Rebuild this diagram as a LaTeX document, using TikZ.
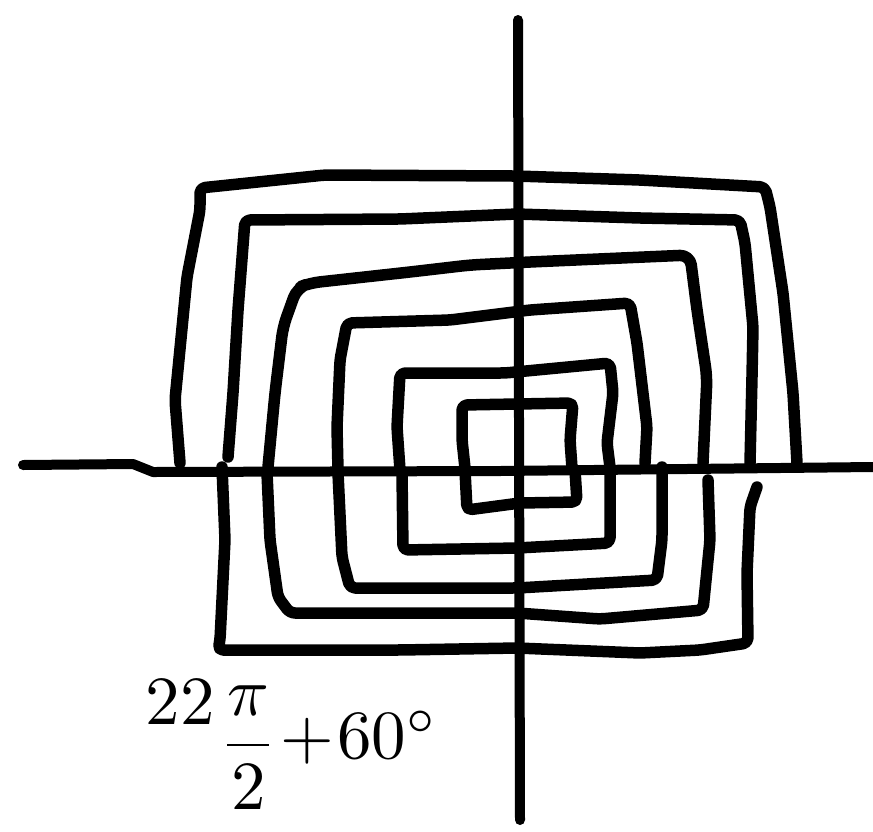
\documentclass[tikz,border=0pt]{standalone}
\usepackage{amsmath}
\begin{document}
\begin{tikzpicture}[x=1pt,y=-1pt,
  ink/.style={line width=11.5pt,line cap=round,line join=round,rounded corners=5pt},
  axisline/.style={line width=10pt,line cap=round,line join=round}]
\useasboundingbox[fill=white] (0,0) rectangle (873,831);
% axes
\coordinate (xa) at (23,465);
\coordinate (xb) at (133,464);
\coordinate (xc) at (153,472);
\coordinate (xd) at (873,467);
\coordinate (ya) at (518,20);
\coordinate (yb) at (520,820);
\draw[axisline] (xa) -- (xb) -- (xc) -- (500,471) -- (xd);
\draw[axisline] (ya) -- (yb);
% upper arches
\draw[ink] (180,463) -- (175,400) -- (187,277) -- (200,210) -- (200,188) -- (325,175) -- (515,176) -- (640,180) -- (765,187) -- (770,207) -- (783,293) -- (793,393) -- (797,463);
\draw[ink] (228,457) -- (233,393) -- (238,310) -- (245,220) -- (400,219) -- (517,214) -- (640,218) -- (740,220) -- (745,243) -- (753,327) -- (752,377) -- (750,463);
\draw[ink,rounded corners=10pt] (268,467) -- (275,393) -- (283,327) -- (297,288) -- (310,283) -- (410,272) -- (470,265) -- (530,262) -- (690,255) -- (697,310) -- (707,377) -- (703,463);
\draw[ink] (338,470) -- (337,427) -- (340,360) -- (347,323) -- (450,320) -- (530,310) -- (630,303) -- (637,343) -- (647,427) -- (645,463);
\draw[ink] (400,470) -- (397,427) -- (400,373) -- (505,373) -- (610,363) -- (613,393) -- (607,443) -- (610,467);
\draw[ink] (465,468) -- (462,440) -- (462,405) -- (517,404) -- (573,403) -- (570,440) -- (572,468);
% lower cups
\draw[ink] (222,467) -- (225,540) -- (220,640) -- (218,650) -- (400,650) -- (517,648) -- (640,653) -- (700,650) -- (748,643) -- (747,573) -- (750,507) -- (757,487);
\draw[ink] (267,473) -- (270,540) -- (278,597) -- (290,613) -- (517,613) -- (600,619) -- (703,610) -- (710,540) -- (708,480);
\draw[ink] (338,473) -- (342,557) -- (350,588) -- (517,588) -- (657,580) -- (662,540) -- (662,467);
\draw[ink] (402,473) -- (403,550) -- (517,548) -- (610,543) -- (610,507) -- (610,470);
\draw[ink] (465,470) -- (467,510) -- (520,503) -- (577,502) -- (575,470);
% label
\node[anchor=center,inner sep=0pt] (lbl) at (292,745)
  {\scalebox{6.9}{$\raisebox{5.4pt}{$22$}\kern0.6pt\dfrac{\pi}{2}\kern0.4pt\raisebox{0.6pt}{${+}\kern0.5pt60^{\circ}$}$}};
\end{tikzpicture}
\end{document}
